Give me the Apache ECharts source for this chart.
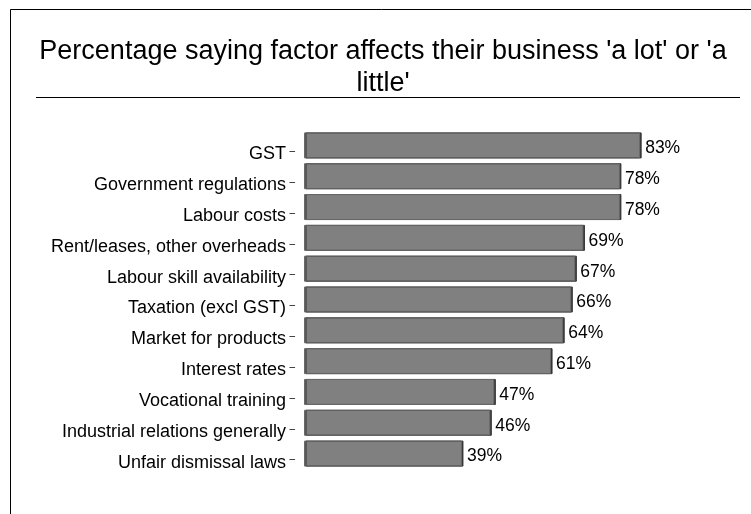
<!DOCTYPE html>
<html>
<head>
<meta charset="UTF-8" />
<title>Factors affecting business</title>
<style type="text/css">
body,html{margin:0;padding:0;border:0;width:100%;height:100%;overflow:hidden;background:#fff;}
</style>
<script src="https://cdn.jsdelivr.net/npm/echarts@6/dist/echarts.min.js"></script>
</head>
<body>
<div id="chartContainer" style="width:751px;height:514px;"></div>
<script type="text/javascript">
var chartTitle = "Percentage saying factor affects their business 'a lot' or 'a\nlittle'";
var factors = ['GST', 'Government regulations', 'Labour costs', 'Rent/leases, other overheads',
    'Labour skill availability', 'Taxation (excl GST)', 'Market for products', 'Interest rates',
    'Vocational training', 'Industrial relations generally', 'Unfair dismissal laws'];
var percentAffected = [83, 78, 78, 69, 67, 66, 64, 61, 47, 46, 39];

var font = 'Liberation Sans, Arial, sans-serif';

function buildChart()
{
    var option = {
        animation: false,
        backgroundColor: '#fff',
        title: {
            text: chartTitle,
            left: 378, top: 31,
            textAlign: 'center',
            textStyle: { fontFamily: font, fontSize: 27, fontWeight: 'normal', color: '#000', lineHeight: 32 }
        },
        graphic: [
            // outer frame (runs off the right and bottom edges)
            { type: 'rect', shape: { x: 10.5, y: 9.5, width: 800, height: 600 },
              style: { fill: null, stroke: '#000', lineWidth: 1 }, silent: true },
            // rule under the title
            { type: 'line', shape: { x1: 36, y1: 97.5, x2: 740, y2: 97.5 },
              style: { stroke: '#000', lineWidth: 1 }, silent: true }
        ],
        grid: { left: 304, right: 42, top: 130, bottom: 45, containLabel: false },
        xAxis: {
            type: 'value', min: 0, max: 100, show: false
        },
        yAxis: {
            type: 'category', inverse: true,
            data: factors,
            axisLine: { show: false },
            axisTick: { show: false },
            axisLabel: {
                margin: 9,
                verticalAlign: 'top',
                formatter: function (v) { return '{n|' + v + '}{s| }{d|–}'; },
                rich: {
                    n: { fontFamily: font, fontSize: 18, color: '#000', lineHeight: 18 },
                    s: { fontFamily: font, fontSize: 12, lineHeight: 18 },
                    d: { fontFamily: font, fontSize: 10, color: '#000', lineHeight: 18, padding: [0, 0, 6, 0] }
                }
            }
        },
        series: [
            {
                type: 'bar',
                data: percentAffected,
                barWidth: 26,
                itemStyle: {
                    color: '#808080',
                    borderColor: '#6a6a6a', borderWidth: 1,
                    shadowColor: '#333', shadowOffsetX: 1.5, shadowOffsetY: 0, shadowBlur: 0
                },
                label: {
                    show: true, position: 'right', distance: 5, offset: [0, 3],
                    formatter: '{c}%',
                    fontFamily: font, fontSize: 17.5, color: '#000'
                }
            }
        ]
    };

    var chart = echarts.init(document.getElementById('chartContainer'));
    chart.setOption(option);
}
buildChart();
</script>
</body>
</html>
